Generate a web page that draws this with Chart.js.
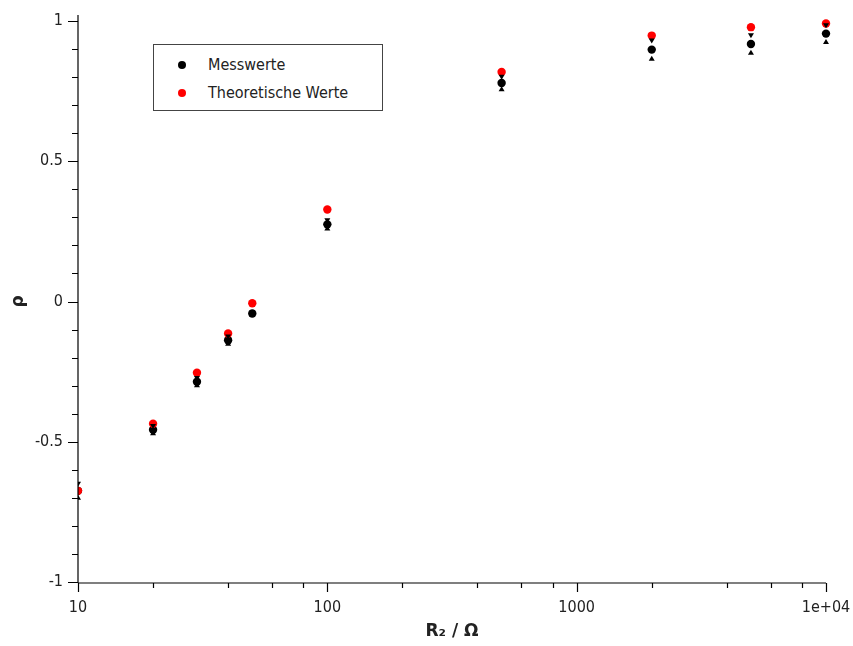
<!DOCTYPE html>
<html lang="de">
<head>
    <meta charset="UTF-8">
    <title>Reflexionsfaktor</title>
    <script src="https://cdn.jsdelivr.net/npm/chart.js"></script>
    <style>
        body { margin: 0; background: #fff; }
        .wrap { position: relative; width: 853px; height: 646px; }
        .legend {
            position: absolute; left: 153px; top: 44px; width: 228px; height: 65px;
            border: 1px solid #444; background: #fff;
            font-family: "DejaVu Sans Condensed", "DejaVu Sans", sans-serif; font-size: 16px; color: #222;
        }
        .legend .row { position: absolute; left: 0; height: 20px; line-height: 20px; }
        .legend .dot { position: absolute; left: 24px; top: 6px; width: 8px; height: 8px; border-radius: 50%; }
        .legend .txt { position: absolute; left: 54px; white-space: nowrap; }
    </style>
</head>
<body>
    <div class="wrap">
        <canvas id="rhoChart" width="853" height="646"></canvas>
        <div class="legend">
            <div class="row" style="top: 10px;"><span class="dot" style="background:#000"></span><span class="txt">Messwerte</span></div>
            <div class="row" style="top: 38px;"><span class="dot" style="background:#f00"></span><span class="txt">Theoretische Werte</span></div>
        </div>
    </div>
    <script>
        // R2 in Ohm
        const r2Values = [10, 20, 30, 40, 50, 100, 500, 2000, 5000, 10000];
        // gemessen
        const rhoMess = [-0.675, -0.457, -0.286, -0.138, -0.043, 0.275, 0.779, 0.898, 0.918, 0.955];
        const rhoMessErr = [0.032, 0.02, 0.02, 0.02, 0.012, 0.022, 0.029, 0.04, 0.038, 0.037];
        // theoretisch
        const rhoTheo = [-0.675, -0.436, -0.254, -0.114, -0.006, 0.328, 0.818, 0.948, 0.978, 0.991];

        const xTicks = [10, 20, 40, 60, 80, 100, 200, 400, 600, 800, 1000, 2000, 4000, 6000, 8000, 10000];
        const xTickLabels = { 10: '10', 100: '100', 1000: '1000', 10000: '1e+04' };
        const yMajor = [-1, -0.5, 0, 0.5, 1];
        const yLabels = ['-1', '-0.5', '0', '0.5', '1'];

        const tickFont = { family: '"DejaVu Sans Condensed", "DejaVu Sans", sans-serif', size: 16 };

        function isYMajor(v) {
            return yMajor.findIndex(m => Math.abs(m - v) < 1e-6);
        }

        // Fehlerbalken (kleine Pfeilspitzen) und Achsenstriche
        const extras = {
            id: 'extras',
            afterDatasetsDraw(chart) {
                const ctx = chart.ctx;
                const xs = chart.scales.x, ys = chart.scales.y;
                const area = chart.chartArea;
                ctx.save();
                ctx.beginPath();
                ctx.rect(area.left, 0, chart.width, chart.height);
                ctx.clip();
                ctx.fillStyle = '#000';
                r2Values.forEach((r, i) => {
                    const px = xs.getPixelForValue(r);
                    const top = ys.getPixelForValue(rhoMess[i] + rhoMessErr[i]);
                    const bot = ys.getPixelForValue(rhoMess[i] - rhoMessErr[i]);
                    ctx.beginPath();
                    ctx.moveTo(px - 3, top); ctx.lineTo(px + 3, top); ctx.lineTo(px, top + 5); ctx.closePath();
                    ctx.fill();
                    ctx.beginPath();
                    ctx.moveTo(px - 3, bot); ctx.lineTo(px + 3, bot); ctx.lineTo(px, bot - 5); ctx.closePath();
                    ctx.fill();
                });
                ctx.restore();
            },
            afterDraw(chart) {
                const ctx = chart.ctx;
                const xs = chart.scales.x, ys = chart.scales.y;
                const area = chart.chartArea;
                ctx.save();
                ctx.strokeStyle = '#000';
                ctx.lineWidth = 1.2;
                ctx.beginPath();
                ctx.moveTo(area.left, area.top - 6); ctx.lineTo(area.left, area.bottom + 1);
                ctx.moveTo(area.left, area.bottom + 1); ctx.lineTo(area.right, area.bottom + 1);
                xs.ticks.forEach(t => {
                    const px = Math.round(xs.getPixelForValue(t.value)) + 0.5;
                    const len = xTickLabels[t.value] ? 9 : 5;
                    ctx.moveTo(px, area.bottom + 1); ctx.lineTo(px, area.bottom + 1 + len);
                });
                ys.ticks.forEach(t => {
                    const py = Math.round(ys.getPixelForValue(t.value)) + 0.5;
                    const len = isYMajor(t.value) >= 0 ? 10 : 6;
                    ctx.moveTo(area.left, py); ctx.lineTo(area.left - len, py);
                });
                ctx.stroke();
                ctx.restore();
            }
        };

        const pointClip = { left: 0, top: 8, right: 8, bottom: 0 };

        new Chart(document.getElementById('rhoChart'), {
            type: 'scatter',
            data: {
                datasets: [{
                    label: 'Messwerte',
                    data: r2Values.map((r, i) => ({ x: r, y: rhoMess[i] })),
                    backgroundColor: '#000',
                    borderColor: '#000',
                    pointRadius: 4.2,
                    borderWidth: 0,
                    clip: pointClip,
                    order: 2
                }, {
                    label: 'Theoretische Werte',
                    data: r2Values.map((r, i) => ({ x: r, y: rhoTheo[i] })),
                    backgroundColor: '#f00',
                    borderColor: '#f00',
                    pointRadius: 4.2,
                    borderWidth: 0,
                    clip: pointClip,
                    order: 1
                }]
            },
            options: {
                responsive: false,
                animation: false,
                layout: { padding: { left: 0, right: 27, top: 21, bottom: 0 } },
                plugins: { legend: { display: false }, tooltip: { enabled: false } },
                scales: {
                    x: {
                        type: 'logarithmic',
                        min: 10,
                        max: 10000,
                        afterBuildTicks(scale) { scale.ticks = xTicks.map(v => ({ value: v })); },
                        afterFit(scale) {
                            scale.height = 64;
                            scale.paddingLeft = 0;
                            scale.paddingRight = 0;
                        },
                        grid: { display: false, drawTicks: false },
                        border: { display: false },
                        ticks: {
                            autoSkip: false,
                            maxRotation: 0,
                            padding: 16,
                            color: '#222',
                            font: tickFont,
                            callback: v => xTickLabels[v] || ''
                        },
                        title: {
                            display: true,
                            text: 'R₂ / Ω',
                            color: '#222',
                            font: { family: '"DejaVu Sans", sans-serif', size: 17, weight: 'bold' },
                            padding: { top: 0, bottom: 4 }
                        }
                    },
                    y: {
                        min: -1,
                        max: 1,
                        afterFit(scale) {
                            scale.width = 78;
                            scale.paddingTop = 0;
                            scale.paddingBottom = 0;
                        },
                        grid: { display: false, drawTicks: false },
                        border: { display: false },
                        ticks: {
                            stepSize: 0.1,
                            autoSkip: false,
                            padding: 15,
                            color: '#222',
                            font: tickFont,
                            callback: v => { const k = isYMajor(v); return k >= 0 ? yLabels[k] : ''; }
                        },
                        title: {
                            display: true,
                            text: 'ρ',
                            color: '#222',
                            font: { family: '"DejaVu Sans", sans-serif', size: 17, weight: 'bold' },
                            padding: { top: 8, bottom: 0 }
                        }
                    }
                }
            },
            plugins: [extras]
        });
    </script>
</body>
</html>
